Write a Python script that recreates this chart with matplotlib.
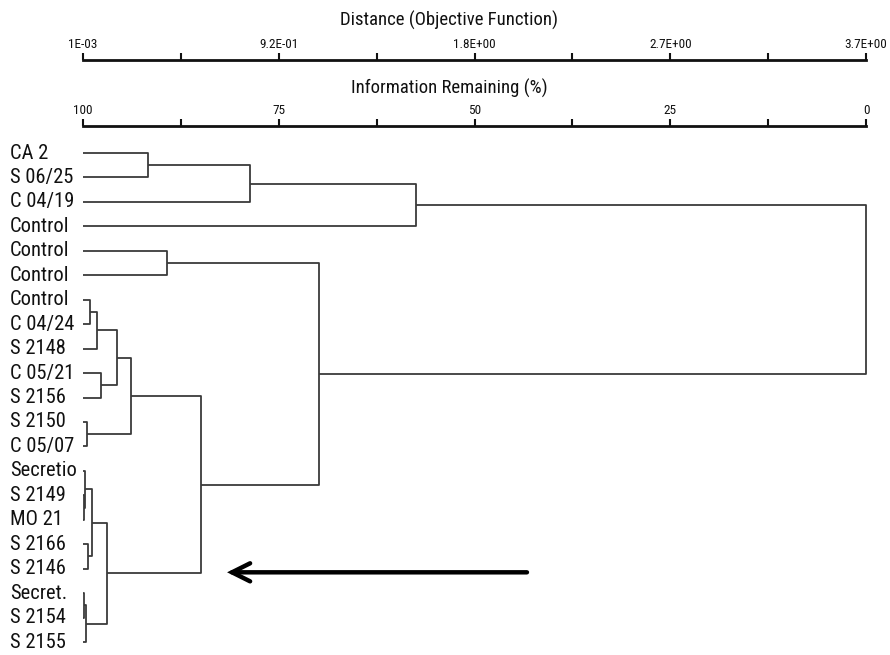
import matplotlib
matplotlib.use("Agg")
import matplotlib.pyplot as plt
from matplotlib import font_manager
from matplotlib.transforms import blended_transform_factory

# ---------------- data ----------------
leaf_labels = ["CA 2", "S 06/25", "C 04/19", "Control", "Control", "Control",
               "Control", "C 04/24", "S 2148", "C 05/21", "S 2156", "S 2150",
               "C 05/07", "Secretio", "S 2149", "MO 21", "S 2166", "S 2146",
               "Secret.", "S 2154", "S 2155"]
n_leaves = len(leaf_labels)

# merges: (left child, right child, information remaining %)
# children < n_leaves are leaves, otherwise merge index + n_leaves
merge_left = [0, 21, 22, 4, 6, 25, 9, 26, 11, 28, 14, 13, 16, 32, 18, 35, 34, 30, 24, 23]
merge_right = [1, 2, 3, 5, 7, 8, 10, 27, 12, 29, 15, 31, 17, 33, 19, 20, 36, 37, 38, 39]
merge_info = [91.7, 78.7, 57.5, 89.3, 99.1, 98.2, 97.7, 95.7, 99.5, 93.9,
              99.87, 99.74, 99.36, 98.85, 99.87, 99.6, 96.9, 84.9, 69.9, 0.0]

info_tick_values = [100, 75, 50, 25, 0]
info_tick_labels = ["100", "75", "50", "25", "0"]
dist_tick_labels = ["1E-03", "9.2E-01", "1.8E+00", "2.7E+00", "3.7E+00"]
minor_tick_values = [87.5, 62.5, 37.5, 12.5]

# ---------------- fonts ----------------
names = {f.name for f in font_manager.fontManager.ttflist}
fam = "Liberation Sans"
for pref in ["Liberation Sans Narrow", "Roboto Condensed", "Archivo Narrow"]:
    if pref in names:
        fam = pref
        break
plt.rcParams["font.family"] = [fam, "DejaVu Sans"]

W, H = 890, 655
fig = plt.figure(figsize=(8.9, 6.55), dpi=100)

x0, x1 = 83, 866
def fx(px):
    return px / W
def fy(py):
    return 1 - py / H

# ---------------- dendrogram ----------------
row_top, row_step = 153, 24.45
ax_top_px = 140
ax = fig.add_axes([fx(x0), 0, fx(x1) - fx(x0), fy(ax_top_px)])
ax.set_xlim(100, 0)
ylo = -(row_top - ax_top_px) / row_step
yhi = (H - row_top) / row_step
ax.set_ylim(yhi, ylo)
ax.axis("off")

pos = {i: (100.0, float(i)) for i in range(n_leaves)}
lc = "#3a3a3a"
lw = 1.3
for k, (a, b, h) in enumerate(zip(merge_left, merge_right, merge_info)):
    xa, ya = pos[a]
    xb, yb = pos[b]
    ax.plot([xa, h, h, xb], [ya, ya, yb, yb], color=lc, lw=lw,
            solid_capstyle="butt", clip_on=False)
    pos[n_leaves + k] = (h, (ya + yb) / 2)

tr = blended_transform_factory(fig.transFigure, ax.transData)
for i, lab in enumerate(leaf_labels):
    ax.text(10 / W, i, lab, transform=tr, ha="left", va="center",
            fontsize=14.8, color="#111111")

# arrow
ax.annotate("", xy=(81.6, 17.15), xytext=(43.3, 17.15),
            arrowprops=dict(arrowstyle="->,head_length=1.3,head_width=0.65",
                            color="black", lw=3.2, shrinkA=0, shrinkB=0,
                            joinstyle="miter", capstyle="round"))

# ---------------- top scales ----------------
def scale_axis(line_py, labels, title, title_py):
    a = fig.add_axes([fx(x0), fy(line_py), fx(x1) - fx(x0), 0.001])
    a.set_xlim(100, 0)
    a.set_ylim(0, 1)
    for s in ["left", "right", "bottom"]:
        a.spines[s].set_visible(False)
    a.spines["top"].set_linewidth(2)
    a.spines["top"].set_color("#111111")
    a.set_yticks([])
    a.xaxis.set_ticks_position("top")
    a.xaxis.set_label_position("top")
    a.set_xticks(info_tick_values)
    a.set_xticklabels(labels)
    a.set_xticks(minor_tick_values, minor=True)
    a.tick_params(axis="x", which="both", direction="out", length=5, width=1.5,
                  color="#111111", labelsize=9.5, pad=2, labelcolor="#111111")
    fig.text(fx(449), fy(title_py), title, ha="center", va="center",
             fontsize=13.5, color="#111111")

scale_axis(61, dist_tick_labels, "Distance (Objective Function)", 20)
scale_axis(127, info_tick_labels, "Information Remaining (%)", 88)

fig.savefig("out.png", dpi=100)
